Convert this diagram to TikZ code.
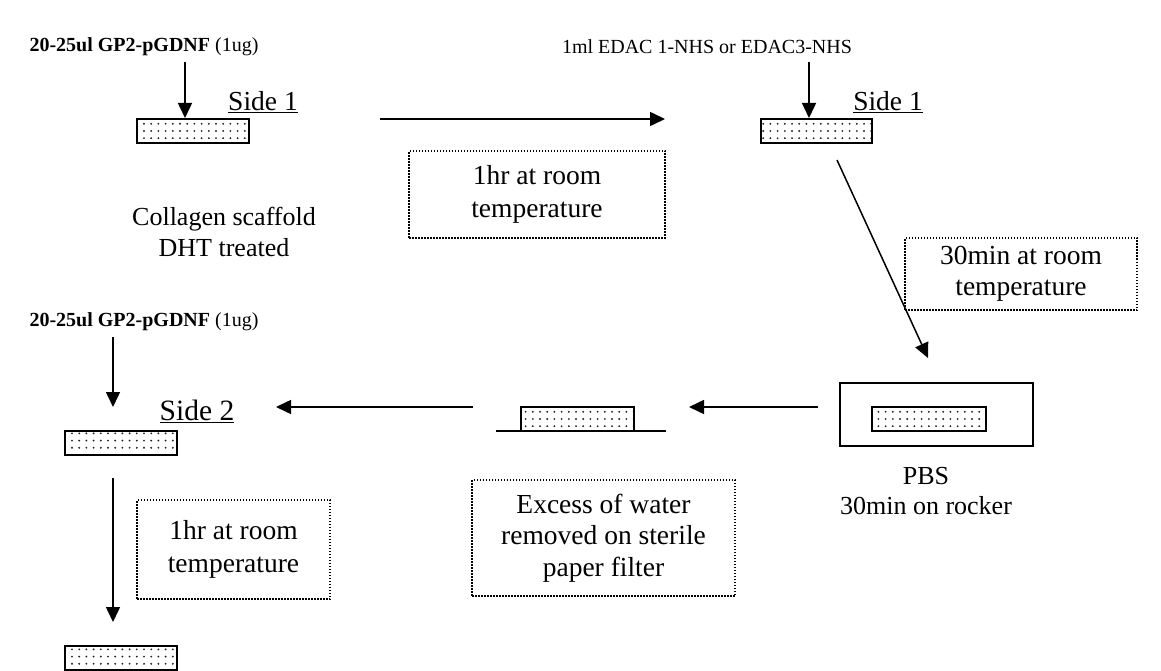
\documentclass[tikz,border=0pt]{standalone}
\usepackage{fontspec}
\setmainfont{Liberation Serif}
\usetikzlibrary{arrows.meta,patterns.meta}
\tikzset{
  scaf/.style={draw, line width=2pt, inner sep=0pt, minimum height=24pt,
    pattern={Dots[distance=7.2pt, radius=1.05pt]}, pattern color=black!85},
  dbox/.style={draw, line width=1.5pt, dash pattern=on 1.5pt off 1.5pt, inner sep=0pt,
    align=center, font=\fontsize{27.5}{33}\selectfont},
  lbl/.style={font=\fontsize{26}{31}\selectfont, align=center, inner sep=0pt},
  toplbl/.style={font=\fontsize{20}{24}\selectfont, inner sep=0pt},
  sidelbl/.style={font=\fontsize{27.5}{30}\selectfont, inner sep=0pt},
  arr/.style={line width=1.5pt, -{Triangle[length=15pt,width=14pt]}},
}
\begin{document}
\begin{tikzpicture}[x=1pt,y=-1pt]
\useasboundingbox (0,0) rectangle (1161,671);
% top-left step
\node[toplbl] (t1) at (144,47) {\textbf{20-25ul GP2-pGDNF} (1ug)};
\node[scaf, minimum width=112pt] (s1) at (193,131) {};
\node[sidelbl] (side1a) at (263,102) {\underline{Side 1}};
\node[lbl] (coll) at (224,232) {Collagen scaffold\\DHT treated};
\draw[arr] ([xshift=-8pt]s1.north |- 0,62) -- ([xshift=-8pt]s1.north);
% first horizontal arrow and box
\coordinate (h1s) at (380,119);
\coordinate (h1e) at (665,119);
\draw[arr] (h1s) -- (h1e);
\node[dbox, minimum width=256pt, minimum height=87pt] (b1) at (537,194.5) {1hr at room\\temperature};
% top-right step
\node[toplbl] (t2) at (707,47) {1ml EDAC 1-NHS or EDAC3-NHS};
\node[scaf, minimum width=111pt] (s2) at (816.5,131) {};
\node[sidelbl] (side1b) at (888,102) {\underline{Side 1}};
\draw[arr] ([xshift=-7.5pt]s2.north |- 0,62) -- ([xshift=-7.5pt]s2.north);
% diagonal
\coordinate (d1s) at (837,160);
\coordinate (d1e) at (928,358);
\draw[arr] (d1s) -- (d1e);
\node[dbox, minimum width=232pt, minimum height=72pt, font=\fontsize{27.5}{31}\selectfont] (b2) at (1021,274) {30min at room\\temperature};
% PBS bath
\node[draw, line width=2pt, minimum width=193pt, minimum height=63pt, inner sep=0pt] (pbs) at (936.5,414.5) {};
\node[scaf, minimum width=114pt] (s3) at (929,419) {};
\node[lbl, font=\fontsize{26}{30}\selectfont] (pbsl) at (926,491) {PBS\\30min on rocker};
% arrows to the left
\coordinate (h2s) at (818,407);
\coordinate (h2e) at (689,407);
\draw[arr] (h2s) -- (h2e);
\node[scaf, minimum width=113pt] (s4) at (577.5,419) {};
\coordinate (f1) at (496,431);
\coordinate (f2) at (666,431);
\draw[line width=2pt] (f1) -- (f2);
\coordinate (h3s) at (473,407);
\coordinate (h3e) at (276,407);
\draw[arr] (h3s) -- (h3e);
\node[dbox, minimum width=263pt, minimum height=116pt, font=\fontsize{27.5}{31.5}\selectfont] (b3) at (603.5,538) {Excess of water\\removed on sterile\\paper filter};
% side 2
\node[toplbl] (t3) at (144,322) {\textbf{20-25ul GP2-pGDNF} (1ug)};
\node[scaf, minimum width=112pt] (s5) at (121,443) {};
\node[sidelbl, font=\fontsize{29.5}{32}\selectfont] (side2) at (197,411) {\underline{Side 2}};
\draw[arr] ([xshift=-8pt]s5.north |- 0,337) -- ([xshift=-8pt]s5.north |- 0,407);
\node[scaf, minimum width=112pt] (s6) at (121,657.5) {};
\draw[arr] ([xshift=-8pt]s5.south |- 0,478) -- ([xshift=-8pt]s6.north |- 0,622);
\node[dbox, minimum width=193pt, minimum height=99pt] (b4) at (233.5,549.5) {1hr at room\\temperature};
\end{tikzpicture}
\end{document}
